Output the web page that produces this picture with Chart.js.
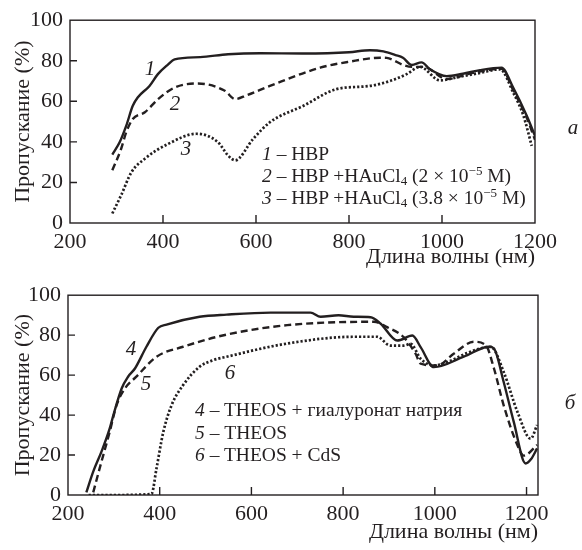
<!DOCTYPE html>
<html>
<head>
<meta charset="utf-8">
<script src="https://cdn.jsdelivr.net/npm/chart.js@4"></script>
<style>
  body { margin: 0; background: #fff; }
  #wrap { position: relative; width: 582px; height: 550px; background: #fff; font-family: "Liberation Serif", "DejaVu Serif", serif; color: #231f20; }
  #wrap canvas { position: absolute; left: 0; }
  .lbl { position: absolute; transform: translate(-50%, -50%); font-style: italic; font-size: 21px; white-space: nowrap; }
  .leg { position: absolute; font-size: 19.5px; line-height: 22px; white-space: nowrap; }
  .leg sub { font-size: 13px; vertical-align: -3px; line-height: 0; }
  .leg sup { font-size: 13px; vertical-align: 7px; line-height: 0; }
</style>
</head>
<body>
<div id="wrap">
  <canvas id="chartA" width="582" height="275" style="top:0"></canvas>
  <canvas id="chartB" width="582" height="275" style="top:275px"></canvas>

  <div class="lbl" style="left:150px;top:68px">1</div>
  <div class="lbl" style="left:175px;top:103px">2</div>
  <div class="lbl" style="left:186px;top:148px">3</div>
  <div class="lbl" style="left:573px;top:127px">a</div>
  <div class="leg" style="left:262px;top:143px">
    <i>1</i> – HBP<br>
    <i>2</i> – HBP +HAuCl<sub>4</sub> (2 × 10<sup>−5</sup> M)<br>
    <i>3</i> – HBP +HAuCl<sub>4</sub> (3.8 × 10<sup>−5</sup> M)
  </div>

  <div class="lbl" style="left:131px;top:348px">4</div>
  <div class="lbl" style="left:146px;top:383px">5</div>
  <div class="lbl" style="left:230px;top:372px">6</div>
  <div class="lbl" style="left:570px;top:402px">б</div>
  <div class="leg" style="left:195px;top:399px;line-height:22.5px">
    <i>4</i> – THEOS + гиалуронат натрия<br>
    <i>5</i> – THEOS<br>
    <i>6</i> – THEOS + CdS
  </div>
</div>
<script>
// panel a: wavelength (nm) / transmittance (%)
const wl1 = [291, 307, 321, 335, 346, 371, 389, 410, 425, 480, 540, 609, 700, 800, 845, 874, 900, 916, 935, 956, 974, 1010, 1045, 1082, 1128, 1153, 1182, 1200];
const tr1 = [33.7, 39.9, 48, 57.8, 62, 67.6, 73.4, 78, 80.7, 81.8, 83.2, 83.7, 83.6, 84.2, 85.2, 84.6, 82.8, 81.5, 77.9, 79.2, 75.8, 72.4, 73.6, 75.4, 76.6, 66.8, 53, 43];
const wl2 = [291, 310, 321, 335, 361, 389, 425, 475, 533, 555, 580, 630, 738, 800, 867, 881, 917, 935, 960, 1010, 1067, 1128, 1153, 1182, 1200];
const tr2 = [26, 36.6, 44.8, 51.3, 54.6, 61, 66.8, 68.8, 65.2, 61.1, 63, 67.6, 76.6, 79.5, 81.5, 81.4, 77.9, 77, 77, 71, 74, 76, 65.5, 52, 41];
const wl3 = [291, 310, 332, 361, 411, 472, 518, 540, 555, 594, 630, 702, 773, 845, 888, 924, 953, 996, 1031, 1082, 1125, 1153, 1175, 1193];
const tr3 = [4.7, 13.7, 25, 31.7, 39, 44, 39.9, 33.3, 30.9, 41.5, 49.7, 57.8, 66, 67.6, 70, 73.4, 77, 70.3, 71.8, 74, 75.8, 64.4, 53, 38];

// panel б
const wl4 = [240, 255, 273, 291, 299, 317, 331, 346, 371, 397, 415, 487, 546, 642, 729, 751, 790, 823, 860, 882, 918, 951, 969, 998, 1063, 1118, 1129, 1150, 1172, 1198, 1210, 1223];
const tr4 = [1.3, 11.7, 21.7, 33.3, 40, 53.3, 59.2, 63.3, 74.2, 83.7, 85.3, 89.2, 90.3, 91.3, 91.3, 89.2, 90, 89.2, 89, 85.7, 77.3, 79.8, 74, 64, 69.2, 74.2, 73.3, 56.7, 36.7, 15.8, 18, 23.3];
const wl5 = [255, 269, 291, 306, 324, 349, 393, 451, 546, 678, 867, 896, 932, 958, 969, 1005, 1041, 1085, 1111, 1129, 1150, 1180, 1194, 1223];
const tr5 = [1.3, 13.3, 31.7, 45, 53.3, 59.2, 69.2, 74.2, 80.3, 85, 86.7, 84, 79, 70.7, 65.7, 64.8, 70.7, 76.7, 75, 63.3, 45, 25, 19.7, 25];
const wl6 = [245, 300, 382, 393, 408, 426, 451, 487, 517, 546, 678, 823, 874, 903, 932, 947, 969, 998, 1027, 1070, 1122, 1150, 1180, 1209, 1223];
const tr6 = [0, 0, 0.5, 13.3, 31.7, 45, 55, 64.2, 67.5, 69.2, 75.8, 79.2, 79.2, 74.8, 74.8, 75.7, 68.2, 64.8, 66.5, 71, 74.2, 61.7, 41.7, 28.2, 35];

const xTicks = [200, 400, 600, 800, 1000, 1200];
const yTicks = [0, 20, 40, 60, 80, 100];

const INK = "#231f20";
const SERIF = "'Liberation Serif', 'DejaVu Serif', serif";

function pts(xs, ys) {
  return xs.map((x, i) => ({ x: x, y: ys[i] }));
}

function line(xs, ys, kind) {
  var d = {
    data: pts(xs, ys),
    borderColor: INK,
    borderWidth: 2.4,
    pointRadius: 0,
    fill: false,
    cubicInterpolationMode: "monotone",
  };
  if (kind == "dash") d.borderDash = [7, 4];
  if (kind == "dot") { d.borderDash = [2.2, 2]; d.borderWidth = 2.7; }
  return d;
}

// box round the plot + short ticks pointing inwards
const framePlugin = {
  id: "frame",
  afterDraw(chart) {
    const { ctx, chartArea: a, scales } = chart;
    ctx.save();
    ctx.strokeStyle = INK;
    ctx.lineWidth = 1.4;
    ctx.strokeRect(a.left, a.top, a.right - a.left, a.bottom - a.top);
    ctx.beginPath();
    scales.x.ticks.forEach((t) => {
      var p = scales.x.getPixelForValue(t.value);
      if (p > a.left + 3 && p < a.right - 3) { ctx.moveTo(p, a.bottom); ctx.lineTo(p, a.bottom - 8); }
    });
    scales.y.ticks.forEach((t) => {
      var p = scales.y.getPixelForValue(t.value);
      if (p > a.top + 3 && p < a.bottom - 3) { ctx.moveTo(a.left, p); ctx.lineTo(a.left + 7, p); }
    });
    ctx.stroke();
    ctx.restore();
  },
};

function makeChart(id, datasets, xMax, box) {
  return new Chart(document.getElementById(id), {
    type: "line",
    data: { datasets: datasets },
    plugins: [framePlugin],
    options: {
      responsive: false,
      animation: false,
      layout: { padding: { left: 0, top: box.top, right: box.right, bottom: 0 } },
      plugins: { legend: { display: false }, tooltip: { enabled: false } },
      scales: {
        x: {
          type: "linear",
          min: 200,
          max: xMax,
          afterBuildTicks: (s) => { s.ticks = xTicks.map((v) => ({ value: v })); },
          afterFit: (s) => { s.height = box.xh; },
          grid: { display: false, drawTicks: false },
          border: { display: false },
          ticks: { padding: 6, maxRotation: 0, autoSkip: false, color: INK, font: { family: SERIF, size: 22 }, callback: (v) => String(v) },
          title: {
            display: true,
            text: "Длина волны (нм)",
            align: "end",
            color: INK,
            padding: { top: 0, bottom: 5 },
            font: { family: SERIF, size: 22 },
          },
        },
        y: {
          min: 0,
          max: 100,
          afterBuildTicks: (s) => { s.ticks = yTicks.map((v) => ({ value: v })); },
          afterFit: (s) => { s.width = box.left; },
          grid: { display: false, drawTicks: false },
          border: { display: false },
          ticks: { padding: 7, color: INK, font: { family: SERIF, size: 22 }, callback: (v) => String(v) },
          title: {
            display: true,
            text: "Пропускание (%)",
            color: INK,
            padding: { top: 10, bottom: 0 },
            font: { family: SERIF, size: 22 },
          },
        },
      },
    },
  });
}

makeChart("chartA", [line(wl1, tr1, "solid"), line(wl2, tr2, "dash"), line(wl3, tr3, "dot")], 1200,
  { left: 70, top: 19, right: 47, xh: 52 });
makeChart("chartB", [line(wl4, tr4, "solid"), line(wl5, tr5, "dash"), line(wl6, tr6, "dot")], 1225,
  { left: 68, top: 19, right: 44, xh: 55 });
</script>
</body>
</html>
